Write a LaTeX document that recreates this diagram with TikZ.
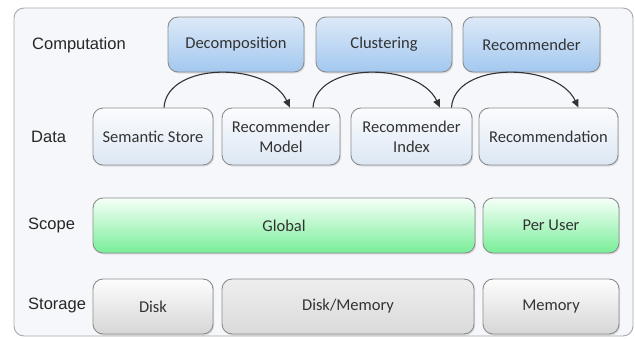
\documentclass[tikz,border=0pt]{standalone}
\usepackage{fontspec}
\setmainfont{Carlito}
\newfontfamily\labelfont{Liberation Sans}
\usetikzlibrary{arrows.meta,shadows}
\definecolor{framefill}{HTML}{F5F7FB}
\definecolor{frameline}{HTML}{A8A8A8}
\definecolor{boxline}{HTML}{8C8C8C}
\definecolor{txt}{HTML}{333333}
\definecolor{bluetop}{HTML}{DCE9F8}
\definecolor{bluebot}{HTML}{A3C8EF}
\definecolor{datatop}{HTML}{FBFCFE}
\definecolor{databot}{HTML}{DCE7F4}
\definecolor{greentop}{HTML}{F6FFF8}
\definecolor{greenbot}{HTML}{78EE98}
\definecolor{graytop}{HTML}{FDFDFD}
\definecolor{graybot}{HTML}{D6D6D6}
\definecolor{gray2top}{HTML}{EEEEEE}
\definecolor{gray2bot}{HTML}{DADADA}
\tikzset{
  box/.style={draw=boxline, line width=0.9pt, rounded corners=10pt,
    minimum height=55pt, inner sep=2pt, align=center, text=txt,
    font=\fontsize{16.5}{20}\selectfont,
    drop shadow={opacity=0.22, shadow xshift=1.2pt, shadow yshift=-1.5pt}},
  compbox/.style={box, top color=bluetop, bottom color=bluebot},
  databox/.style={box, minimum height=57pt, top color=datatop, bottom color=databot},
  scopebox/.style={box, top color=greentop, bottom color=greenbot},
  storebox/.style={box, top color=graytop, bottom color=graybot},
  store2box/.style={box, top color=gray2top, bottom color=gray2bot},
  rowlabel/.style={anchor=west, inner sep=0pt, text=black!85,
    font=\labelfont\fontsize{16.5}{20}\selectfont},
  flow/.style={draw=black!80, line width=1.1pt, -{Triangle[length=8pt,width=7pt]}}
}
\begin{document}
\begin{tikzpicture}[x=1pt,y=-1pt]
\useasboundingbox (0,0) rectangle (635,338);
\draw[fill=framefill, draw=frameline, line width=0.9pt, rounded corners=10pt] (14,8) rectangle (633,336);

% row labels
\node[rowlabel] (lcomp) at (32,45) {Computation};
\node[rowlabel] (ldata) at (31,137) {Data};
\node[rowlabel] (lscope) at (28,225) {Scope};
\node[rowlabel] (lstore) at (28,305) {Storage};

% computation
\node[compbox, minimum width=136pt] (dec) at (236,44.5) {Decomposition};
\node[compbox, minimum width=136pt] (clu) at (384,44.5) {Clustering};
\node[compbox, minimum width=137pt] (rec) at (531.5,44.5) {Recommender};

% data
\node[databox, minimum width=120pt] (ss) at (153,136.5) {Semantic Store};
\node[databox, minimum width=118pt] (rm) at (281,136.5) {Recommender\\Model};
\node[databox, minimum width=121pt] (ri) at (411.5,136.5) {Recommender\\Index};
\node[databox, minimum width=139pt] (rn) at (548.5,136.5) {Recommendation};

% scope
\node[scopebox, minimum width=382pt] (glob) at (284,225.5) {Global};
\node[scopebox, minimum width=136pt] (pu) at (551,225.5) {Per User};

% storage
\node[storebox, minimum width=120pt] (disk) at (153,306.5) {Disk};
\node[store2box, minimum width=252pt] (dm) at (348,306.5) {Disk/Memory};
\node[storebox, minimum width=136pt] (mem) at (551,306.5) {Memory};

% arrows
\draw[flow] ([xshift=11pt]ss.north) .. controls +(3,-46) and +(-22,-46) .. ([xshift=9pt]rm.north);
\draw[flow] ([xshift=32pt]rm.north) .. controls +(3,-46) and +(-22,-46) .. ([xshift=28.5pt]ri.north);
\draw[flow] ([xshift=40pt]ri.north) .. controls +(3,-46) and +(-22,-46) .. ([xshift=30pt]rn.north);
\end{tikzpicture}
\end{document}
